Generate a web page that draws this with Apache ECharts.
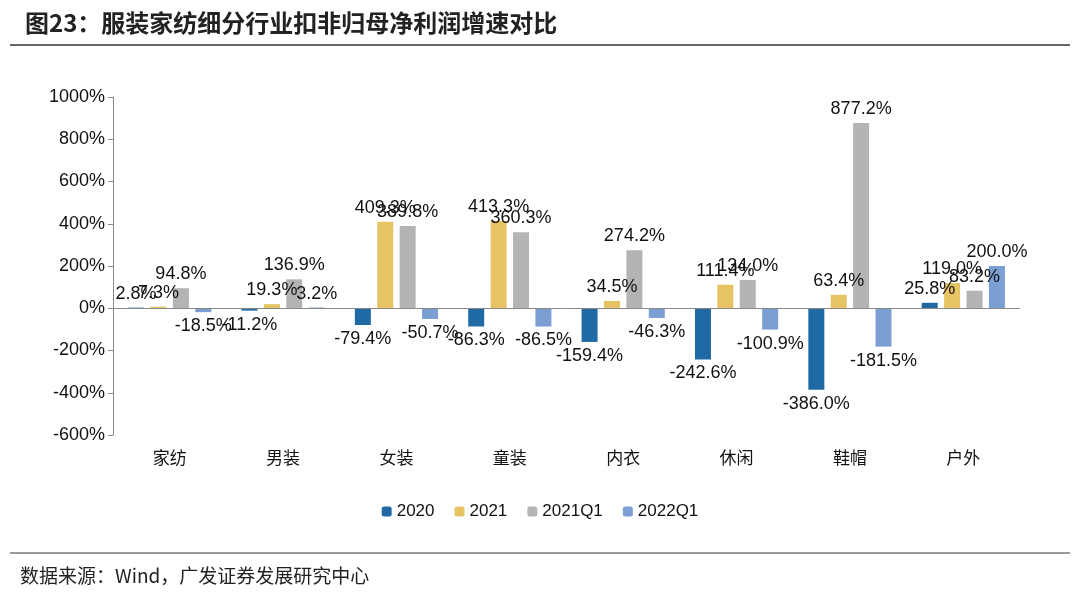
<!DOCTYPE html>
<html><head><meta charset="utf-8">
<script src="https://cdn.jsdelivr.net/npm/echarts@6/dist/echarts.min.js"></script>
<style>body{margin:0;background:#fff}#main{width:1080px;height:597px}</style>
</head><body><div id="main"></div>
<script>
var categories = ['家纺','男装','女装','童装','内衣','休闲','鞋帽','户外'];
var s2020   = [2.8, -11.2, -79.4, -86.3, -159.4, -242.6, -386.0, 25.8];
var s2021   = [7.3, 19.3, 409.3, 413.3, 34.5, 111.4, 63.4, 119.0];
var s2021Q1 = [94.8, 136.9, 389.8, 360.3, 274.2, 134.0, 877.2, 83.2];
var s2022Q1 = [-18.5, 3.2, -50.7, -86.5, -46.3, -100.9, -181.5, 200.0];
var names = ['2020','2021','2021Q1','2022Q1'];
var colors = ['#1f6aa5','#e6c463','#b4b4b4','#7b9fd3'];

var myChart = echarts.init(document.getElementById('main'));
var font = 'Liberation Sans, Arial, sans-serif';
var series = [s2020, s2021, s2021Q1, s2022Q1].map(function (d, i) {
    return {
        name: names[i], type: 'bar', barWidth: 16, barGap: '40%',
        itemStyle: {color: colors[i]},
        data: d.map(function (v) {
            return {value: v, label: {position: v < 0 ? 'bottom' : 'top'}};
        }),
        label: {show: true, fontSize: 18, color: '#111', fontFamily: font,
            formatter: function (p) { return p.value.toFixed(1) + '%'; }}
    };
});
var option = {
    title: {text: '图23：服装家纺细分行业扣非归母净利润增速对比', left: 20, top: 6,
        textStyle: {fontSize: 24, fontWeight: 'bold', color: '#222', fontFamily: 'Noto Sans CJK SC'}},
    graphic: [
        {type: 'line', shape: {x1: 10, y1: 45, x2: 1070, y2: 45}, style: {stroke: '#333', lineWidth: 1.5}},
        {type: 'line', shape: {x1: 10, y1: 553, x2: 1070, y2: 553}, style: {stroke: '#333', lineWidth: 1}},
        {type: 'text', left: 20, top: 566, style: {text: '数据来源：Wind，广发证券发展研究中心', fontSize: 19, fill: '#222', fontFamily: 'Noto Sans CJK SC'}}
    ],
    legend: {bottom: 72, itemWidth: 10, itemHeight: 10, itemGap: 20,
        textStyle: {fontSize: 17, fontFamily: font, color: '#111'}, data: names},
    grid: {left: 113, right: 60, top: 97, height: 338},
    xAxis: {type: 'category', data: categories,
        axisLine: {onZero: false, show: false}, axisTick: {show: false},
        axisLabel: {fontSize: 17, color: '#111', fontFamily: 'Noto Sans CJK SC', margin: 14}},
    yAxis: {type: 'value', min: -600, max: 1000, interval: 200,
        axisLine: {show: true, lineStyle: {color: '#888'}}, axisTick: {show: true},
        splitLine: {show: false},
        axisLabel: {fontSize: 18, color: '#111', fontFamily: font,
            formatter: function (v) { return v + '%'; }}},
    series: series.concat([{type: 'line', data: [], markLine: {silent: true, symbol: 'none',
        lineStyle: {color: '#888', type: 'solid', width: 1}, label: {show: false}, data: [{yAxis: 0}]}}])
};
myChart.setOption(option);
window.onresize = myChart.resize;
</script></body></html>
